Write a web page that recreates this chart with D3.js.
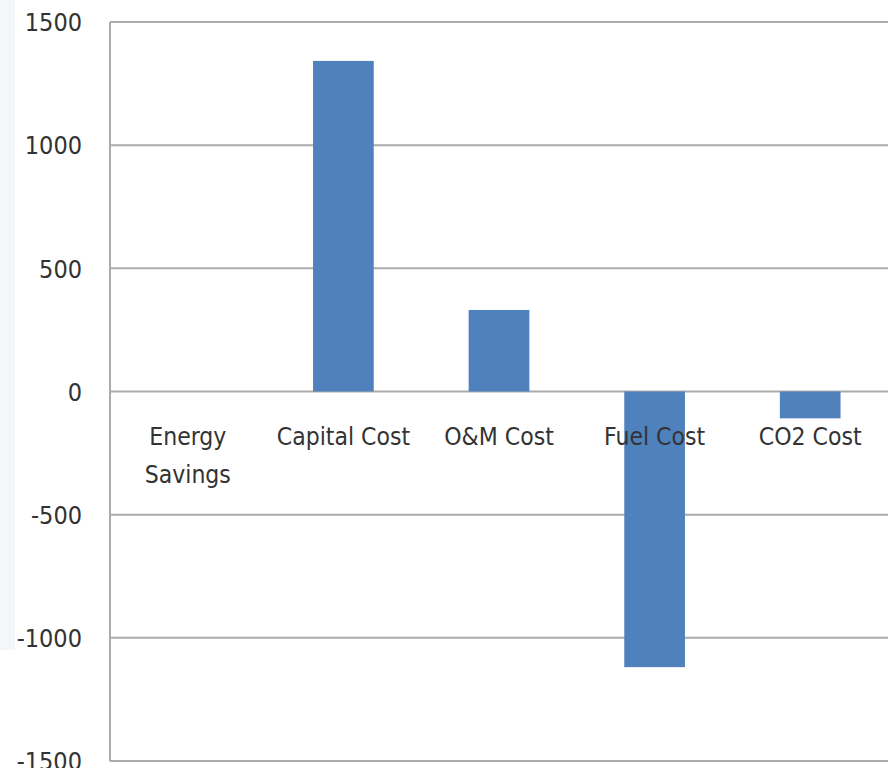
<!DOCTYPE html>
<html>
<head>
<meta charset="utf-8">
<script src="https://cdn.jsdelivr.net/npm/d3@7"></script>
<style>
  html, body { margin: 0; padding: 0; background: #fff; }
  svg { display: block; }
  text { font-family: "Liberation Sans Narrow", "DejaVu Sans Condensed", "Liberation Sans", sans-serif; fill: #333; }
</style>
</head>
<body>
<svg id="chart" width="889" height="768"></svg>
<script>
// Cost components (change relative to baseline)
const categories = [["Energy", "Savings"], ["Capital Cost"], ["O&M Cost"], ["Fuel Cost"], ["CO2 Cost"]];
const values = [0, 1342, 331, -1119, -109];
const tickValues = [-1500, -1000, -500, 0, 500, 1000, 1500];

const svg = d3.select("#chart");
const plotLeft = 110, plotRight = 888, plotTop = 22, plotBottom = 761;

// faint panel strip along the left edge
svg.append("rect").attr("x", 0).attr("y", 0).attr("width", 15).attr("height", 650).attr("fill", "#f3f7fa");

const keys = categories.map(c => c.join(" "));
const x = d3.scaleBand().domain(keys).range([plotLeft, plotRight]).paddingInner(0.61).paddingOuter(0.305);
const y = d3.scaleLinear().domain([-1500, 1500]).range([plotBottom, plotTop]);

// horizontal gridlines
svg.append("g").selectAll("line").data(tickValues).join("line")
  .attr("x1", plotLeft).attr("x2", plotRight)
  .attr("y1", d => y(d)).attr("y2", d => y(d))
  .attr("stroke", "#ababab").attr("stroke-width", 2);

// value axis line
svg.append("line").attr("x1", plotLeft).attr("x2", plotLeft).attr("y1", y(1500)).attr("y2", y(-1500))
  .attr("stroke", "#ababab").attr("stroke-width", 2);

// y tick labels
const yAxis = d3.axisLeft(y).tickValues(tickValues).tickFormat(d => String(d)).tickSize(0).tickPadding(0);
const gy = svg.append("g").attr("transform", `translate(82,0)`).call(yAxis);
gy.select(".domain").remove();
gy.selectAll("text").attr("font-size", 25).attr("fill", "#333")
  .style("font-family", '"Liberation Sans Narrow", "DejaVu Sans Condensed", sans-serif')
  .attr("dy", "0.35em");

// bars
svg.append("g").selectAll("rect").data(values).join("rect")
  .attr("x", (d, i) => x(keys[i]))
  .attr("width", x.bandwidth())
  .attr("y", d => y(Math.max(0, d)))
  .attr("height", d => Math.abs(y(d) - y(0)))
  .attr("fill", "#4f81bd");

// category labels (drawn above bars)
const lab = svg.append("g").selectAll("text").data(categories).join("text")
  .attr("text-anchor", "middle")
  .attr("font-size", 24.5)
  .attr("x", (d, i) => x(keys[i]) + x.bandwidth() / 2)
  .attr("y", 445);
lab.selectAll("tspan").data(d => d).join("tspan")
  .attr("x", function() { return this.parentNode.getAttribute("x"); })
  .attr("dy", (d, i) => i === 0 ? 0 : 38)
  .text(d => d);
</script>
</body>
</html>
